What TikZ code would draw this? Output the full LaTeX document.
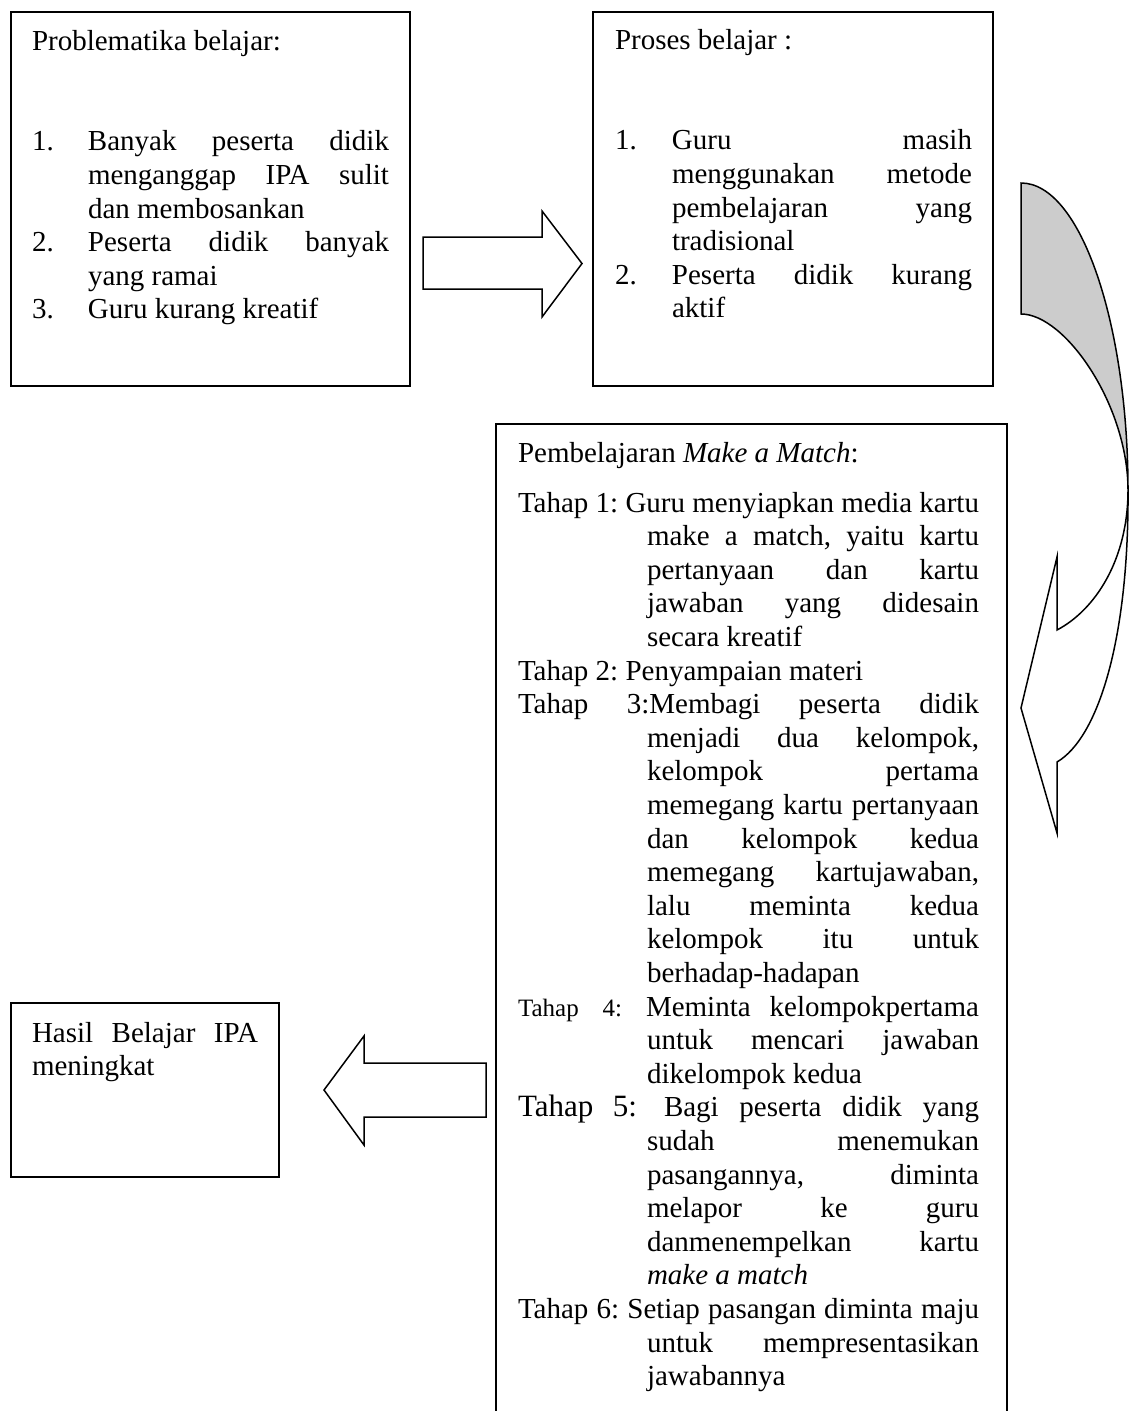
\documentclass[tikz,border=0pt]{standalone}
\usepackage{fontspec}
\setmainfont{Liberation Serif}
\hbadness=10000
\hfuzz=6pt
\newcommand\Sr{\vrule height25pt depth8.6pt width0pt}
\newcommand\JL[1]{\hbox to\hsize{\Sr#1}}
\newcommand\LL[1]{\hbox to\hsize{\Sr#1\hfil}}
\newcommand\NUM[2]{\hbox to#1{#2\hfil}}
\newcommand\Block[2]{\vbox{\hsize=#1\relax\parindent0pt #2}}
\newcommand\INa{\hskip56pt\relax}
\newcommand\INb{\hskip57pt\relax}
\newcommand\IND{\hskip129pt\relax}
\definecolor{backgray}{gray}{0.8}
\tikzset{
  box/.style={draw, line width=1.8pt, inner sep=0pt, outer sep=0pt, anchor=north west},
  txt/.style={inner sep=0pt, outer sep=0pt, anchor=north west,
    font=\fontsize{29}{33.6}\selectfont\frenchspacing},
  blockarrow/.style={draw, line width=1.5pt, fill=white, line join=miter},
  curvearrow/.style={draw, line width=1.5pt, line join=miter},
}
\begin{document}
\begin{tikzpicture}[x=1pt,y=-1pt]
\useasboundingbox (0,0) rectangle (1138,1411);
\clip (0,0) rectangle (1138,1411);

% boxes
\node[box, minimum width=399pt, minimum height=374pt] (b1) at (11,12) {};
\node[box, minimum width=400pt, minimum height=374pt] (b2) at (593,12) {};
\node[box, minimum width=511pt, minimum height=1020pt] (b3) at (496,424) {};
\node[box, minimum width=268pt, minimum height=174pt] (b4) at (11,1003) {};

% texts
\node[txt] (t1) at ([shift={(21,13)}]b1.north west) {\Block{357pt}{%
\LL{Problematika belajar:}
\vskip67.2pt
\JL{\NUM{56pt}{1.}Banyak peserta didik}
\JL{\INa menganggap IPA sulit}
\LL{\INa dan membosankan}
\JL{\NUM{56pt}{2.}Peserta didik banyak}
\LL{\INa yang ramai}
\LL{\NUM{56pt}{3.}Guru kurang kreatif}
}};

\node[txt] (t2) at ([shift={(22,12)}]b2.north west) {\Block{357pt}{%
\LL{Proses belajar :}
\vskip67.2pt
\JL{\NUM{57pt}{1.}Guru masih}
\JL{\INb menggunakan metode}
\JL{\INb pembelajaran yang}
\LL{\INb tradisional}
\JL{\NUM{57pt}{2.}Peserta didik kurang}
\LL{\INb aktif}
}};

\node[txt] (t3) at ([shift={(22,13)}]b3.north west) {\Block{461pt}{%
\LL{Pembelajaran \textit{Make a Match}:}
\vskip16.4pt
\JL{Tahap 1: Guru menyiapkan media kartu}
\JL{\IND make a match, yaitu kartu}
\JL{\IND pertanyaan dan kartu}
\JL{\IND jawaban yang didesain}
\LL{\IND secara kreatif}
\LL{Tahap 2: Penyampaian materi}
\JL{Tahap 3:Membagi peserta didik}
\JL{\IND menjadi dua kelompok,}
\JL{\IND kelompok pertama}
\JL{\IND memegang kartu pertanyaan}
\JL{\IND dan kelompok kedua}
\JL{\IND memegang kartujawaban,}
\JL{\IND lalu meminta kedua}
\JL{\IND kelompok itu untuk}
\LL{\IND berhadap-hadapan}
\JL{\hbox to128pt{\fontsize{25}{30}\selectfont Tahap\hfil 4:\hskip24pt\relax}Meminta kelompokpertama}
\JL{\IND untuk mencari jawaban}
\LL{\IND dikelompok kedua}
\JL{\hbox to146pt{\fontsize{31}{36}\selectfont Tahap\hfil 5:\hskip27pt\relax}Bagi peserta didik yang}
\JL{\IND sudah menemukan}
\JL{\IND pasangannya, diminta}
\JL{\IND melapor ke guru}
\JL{\IND danmenempelkan kartu}
\LL{\IND\textit{make a match}}
\JL{Tahap 6: Setiap pasangan diminta maju}
\JL{\IND untuk mempresentasikan}
\LL{\IND jawabannya}
}};

\node[txt] (t4) at ([shift={(21,14)}]b4.north west) {\Block{226pt}{%
\JL{Hasil Belajar IPA}
\LL{meningkat}
}};

% straight block arrows
\draw[blockarrow] (423,237) -- (542,237) -- (542,211) -- (582,263.5) -- (542,317) -- (542,289) -- (423,289) -- cycle;
\draw[blockarrow] (486,1063) -- (364,1063) -- (364,1036) -- (324,1090) -- (364,1145) -- (364,1117) -- (486,1117) -- cycle;

% curved arrow
\coordinate (cA) at (1021,183);
\coordinate (cB) at (1021,314);
\coordinate (cX) at (1128,490);
\coordinate (cL) at (1057,762);
\coordinate (cU) at (1057,630);
\coordinate (cH1) at (1057,557);
\coordinate (cT) at (1021,708);
\coordinate (cH2) at (1057,833);
\draw[curvearrow, fill=backgray] (cA) .. controls (1081,183) and (1128,325) .. (cX)
  .. controls (1128,405) and (1065,314) .. (cB) -- cycle;
\draw[curvearrow, fill=white] (cX) .. controls (1129,640) and (1098,738) .. (cL)
  -- (cH2) -- (cT) -- (cH1) -- (cU) .. controls (1095,610) and (1128,560) .. (cX) -- cycle;
\end{tikzpicture}
\end{document}
